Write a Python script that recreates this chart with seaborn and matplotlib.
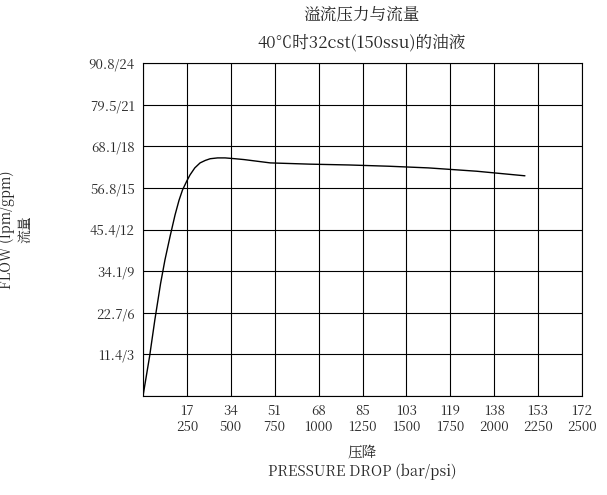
import matplotlib
matplotlib.use("Agg")
import matplotlib.pyplot as plt
import seaborn as sns
import pandas as pd

sns.set_style("white")
plt.rcParams['font.family'] = ['Noto Serif CJK SC', 'Noto Sans CJK SC', 'DejaVu Serif']

x_top = ["", "17", "34", "51", "68", "85", "103", "119", "138", "153", "172"]
x_bot = ["", "250", "500", "750", "1000", "1250", "1500", "1750", "2000", "2250", "2500"]
y_labels = ["", "11.4/3", "22.7/6", "34.1/9", "45.4/12", "56.8/15", "68.1/18", "79.5/21", "90.8/24"]

flow_x = [0.0, 0.15, 0.27, 0.4, 0.5, 0.62, 0.73, 0.82, 0.9, 1.0, 1.07, 1.18, 1.3, 1.42, 1.53, 1.7, 1.87, 2.1, 2.3, 2.6, 2.9, 3.8, 4.7, 5.6, 6.5, 7.6, 8.7]
flow_y = [0.0, 0.95, 1.83, 2.7, 3.27, 3.85, 4.35, 4.7, 4.95, 5.17, 5.31, 5.48, 5.6, 5.66, 5.7, 5.72, 5.72, 5.7, 5.68, 5.64, 5.6, 5.57, 5.55, 5.52, 5.48, 5.4, 5.29]

df = pd.DataFrame({"x": flow_x, "y": flow_y})
fig = plt.figure(figsize=(6.07, 4.95), dpi=100)
ax = fig.add_axes([143/607, 1-396/495, 439/607, 333/495])
sns.lineplot(data=df, x="x", y="y", ax=ax, color="black", linewidth=1.0)
ax.set_xlim(0, 10)
ax.set_ylim(0, 8)
ax.set_xticks(range(11))
ax.set_xticklabels([f"{a}\n{b}" for a, b in zip(x_top, x_bot)], fontsize=9.5)
ax.set_yticks(range(9))
ax.set_yticklabels(y_labels, fontsize=9.5)
ax.grid(True, color="black", linewidth=0.8)
for s in ax.spines.values():
    s.set_color("black"); s.set_linewidth(0.8)
ax.tick_params(length=0, pad=6)
ax.set_xlabel("压降\nPRESSURE DROP (bar/psi)", fontsize=10.5, labelpad=8)
ax.set_ylabel("FLOW (lpm/gpm)\n流量", fontsize=10, labelpad=40)
fig.text(362/607, 1-14/495, "溢流压力与流量", ha="center", va="center", fontsize=12)
fig.text(362/607, 1-42/495, "40℃时32cst(150ssu)的油液", ha="center", va="center", fontsize=12)
fig.savefig("out.png", dpi=100)
